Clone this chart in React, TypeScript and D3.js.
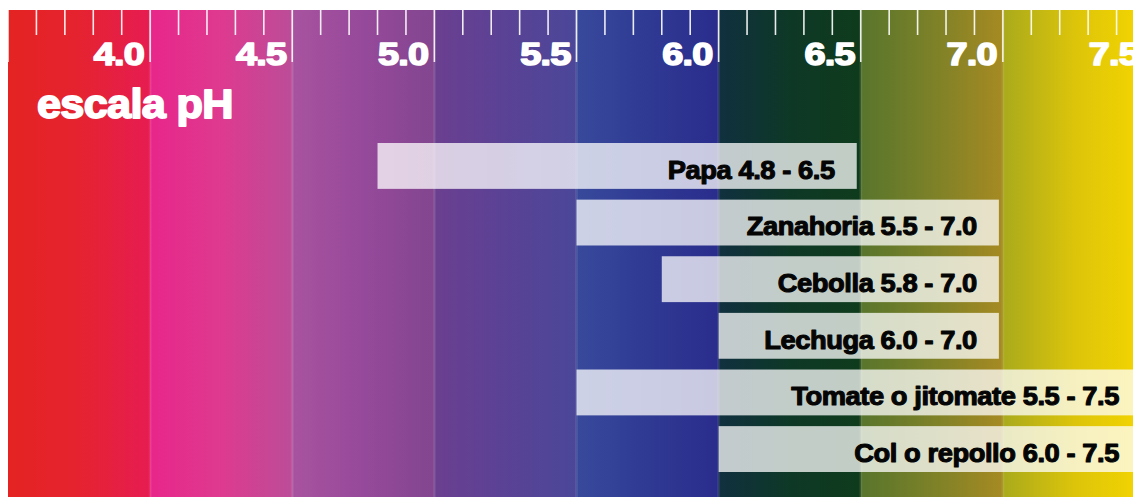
import React from "react";
import * as d3 from "d3";

const crops = ["Papa", "Zanahoria", "Cebolla", "Lechuga", "Tomate o jitomate", "Col o repollo"];
const phMin = [4.8, 5.5, 5.8, 6.0, 5.5, 6.0];
const phMax = [6.5, 7.0, 7.0, 7.0, 7.5, 7.5];
const majorTicks = [3.5, 4.0, 4.5, 5.0, 5.5, 6.0, 6.5, 7.0, 7.5];
const tickLabels = ["4.0", "4.5", "5.0", "5.5", "6.0", "6.5", "7.0", "7.5"];
const bandStart = [3.5, 4.0, 4.5, 5.0, 5.5, 6.0, 6.5, 7.0];
const bandLeft = ["#e42322", "#e8268a", "#a8539f", "#6b3f90", "#38499b", "#10303f", "#58752c", "#a9aa1c"];
const bandMid = ["#e52330", "#de3a8f", "#96499a", "#5a4295", "#2f3a93", "#0e3826", "#7c8128", "#dcc40a"];
const bandRight = ["#e61c52", "#bb4d98", "#82468f", "#4b4799", "#2a2c8c", "#0f3b1c", "#a68a22", "#f5d600"];

const W = 1133;
const H = 497;

export default function App() {
  const x = d3.scaleLinear().domain([3.5, 7.5]).range([8, 1145]);
  const y = d3.scaleBand<string>().domain(crops).range([143, 472]).paddingInner(0.19).paddingOuter(0);
  const bw = y.bandwidth();
  const minor = d3.range(36, 75).map((d) => d / 10).filter((v) => Math.abs(v * 2 - Math.round(v * 2)) > 0.01);
  const top = 10;
  const font = "'Liberation Sans', Arial, sans-serif";

  return (
    <svg width={W} height={H} style={{ position: "absolute", left: 0, top: 0, display: "block" }}>
      <defs>
        {bandStart.map((b, i) => (
          <linearGradient key={i} id={`band${i}`} x1="0" x2="1" y1="0" y2="0">
            <stop offset="0%" stopColor={bandLeft[i]} />
            <stop offset="50%" stopColor={bandMid[i]} />
            <stop offset="100%" stopColor={bandRight[i]} />
          </linearGradient>
        ))}
        <clipPath id="clip">
          <rect x={8} y={top} width={W - 8} height={H - top} />
        </clipPath>
      </defs>
      <rect x={0} y={0} width={W} height={H} fill="#ffffff" />
      <g clipPath="url(#clip)">
        {bandStart.map((b, i) => (
          <rect key={i} x={x(b)} y={top} width={x(b + 0.5) - x(b) + 0.5} height={H - top} fill={`url(#band${i})`} />
        ))}
        {majorTicks.slice(1, -1).map((v, i) => (
          <rect key={i} x={x(v) - 1.5} y={top} width={3} height={H - top} fill="#ffffff" opacity={0.08} />
        ))}
        {majorTicks.map((v, i) => (
          <line key={i} x1={x(v)} x2={x(v)} y1={top} y2={62} stroke="#ffffff" strokeWidth={1.6} opacity={0.9} />
        ))}
        {minor.map((v, i) => (
          <line key={i} x1={x(v)} x2={x(v)} y1={top} y2={35} stroke="#ffffff" strokeWidth={1.6} opacity={0.9} />
        ))}
        {tickLabels.map((t) => (
          <text
            key={t}
            transform={`translate(${x(+t) - 6},65) scale(1.22,1)`}
            textAnchor="end"
            fontFamily={font}
            fontWeight="bold"
            fontSize={31}
            fill="#ffffff"
            stroke="#ffffff"
            strokeWidth={1.6}
            strokeLinejoin="round"
            letterSpacing={-0.6}
          >
            {t}
          </text>
        ))}
        <text
          transform="translate(37,118) scale(1.08,1)"
          fontFamily={font}
          fontWeight="bold"
          fontSize={40}
          fill="#ffffff"
          stroke="#ffffff"
          strokeWidth={1.8}
          strokeLinejoin="round"
          letterSpacing={-0.6}
        >
          escala pH
        </text>
        {crops.map((c, i) => (
          <g key={c}>
            <rect x={x(phMin[i])} y={y(c)} width={x(phMax[i]) - x(phMin[i]) - 4} height={bw} fill="#ffffff" opacity={0.75} />
            <text
              transform={`translate(${x(phMax[i]) - 26},${(y(c) as number) + bw - 10}) scale(1.05,1)`}
              textAnchor="end"
              fontFamily={font}
              fontWeight="bold"
              fontSize={26}
              fill="#050505"
              stroke="#050505"
              strokeWidth={1.1}
              strokeLinejoin="round"
              letterSpacing={-0.4}
            >
              {`${c} ${phMin[i].toFixed(1)} - ${phMax[i].toFixed(1)}`}
            </text>
          </g>
        ))}
      </g>
    </svg>
  );
}
